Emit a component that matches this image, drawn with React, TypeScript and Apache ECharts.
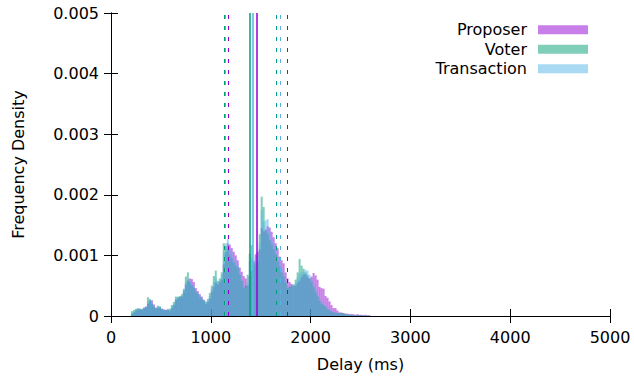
import React, { useEffect, useRef } from "react";
import * as echarts from "echarts";

// Histogram bins: 20 ms wide, starting at 200 ms
const binStart = 200;
const binWidth = 20;
// Frequency densities in units of 1e-4 per bin
const UNIT = 1e-4;
const proposerValues = [
  0.3, 0.6, 0.9, 1.1, 1.2, 1.0, 1.4, 1.5, 2.0, 2.5,
  2.6, 1.9, 1.4, 1.3, 1.4, 1.2, 1.1, 1.0, 1.1, 0.8,
  1.3, 1.8, 2.6, 2.9, 3.1, 3.2, 4.0, 5.2, 5.8, 6.2,
  6.1, 5.6, 4.6, 4.1, 3.6, 3.2, 2.7, 2.0, 2.3, 2.9,
  4.0, 4.8, 5.5, 5.2, 5.6, 6.0, 8.5, 10.5, 12.0, 11.8,
  11.2, 10.6, 10.0, 9.2, 8.0, 7.3, 6.6, 6.2, 5.0, 6.5,
  7.5, 9.0, 10.2, 10.6, 11.0, 14.5, 14.0, 14.3, 14.8, 14.6,
  13.9, 13.0, 12.0, 11.2, 9.8, 9.2, 8.7, 7.2, 6.2, 5.6,
  5.3, 5.0, 5.0, 5.5, 5.8, 6.4, 6.8, 6.9, 6.4, 6.2,
  6.5, 7.1, 6.7, 6.0, 4.8, 4.6, 4.5, 3.3, 3.0, 2.4,
  1.8, 1.3, 1.3, 0.9, 0.6, 0.5, 0.5, 0.4, 0.4, 0.3,
  0.3, 0.3, 0.2, 0.3, 0.2, 0.2, 0.15, 0.2, 0.1, 0.1,
];
const voterValues = [
  0.8, 1.0, 1.2, 1.3, 1.1, 1.2, 1.2, 1.5, 3.1, 2.8,
  2.0, 1.5, 1.2, 1.7, 1.6, 1.2, 0.9, 1.0, 1.0, 1.2,
  1.8, 2.3, 3.2, 3.2, 3.3, 3.6, 4.5, 6.5, 7.2, 5.6,
  5.0, 4.6, 4.0, 3.6, 3.1, 2.8, 2.5, 2.4, 2.8, 3.8,
  5.0, 6.6, 7.5, 5.8, 6.2, 7.2, 12.0, 11.5, 11.0, 10.0,
  9.5, 8.8, 8.3, 8.0, 6.8, 5.8, 4.6, 5.0, 6.8, 10.3,
  11.7, 8.5, 8.8, 9.0, 13.5, 19.7, 18.0, 14.0, 13.5, 12.5,
  11.8, 11.0, 10.2, 9.0, 8.2, 7.2, 6.5, 5.5, 4.6, 4.8,
  5.0, 5.2, 6.0, 7.2, 9.4, 8.3, 7.8, 7.2, 6.8, 6.2,
  5.6, 4.8, 4.0, 3.2, 2.5, 2.0, 1.8, 1.5, 1.1, 0.9,
  0.7, 0.6, 0.5, 0.5, 0.5, 0.6, 0.4, 0.3, 0.2, 0.2,
  0.2, 0.1, 0.1, 0.1, 0.1, 0.1, 0.05, 0.05, 0.05, 0.05,
];
const transactionValues = [
  0.5, 0.7, 1.0, 1.1, 1.2, 1.1, 1.3, 1.6, 2.4, 2.6,
  2.2, 1.6, 1.3, 1.6, 1.5, 1.1, 1.0, 1.0, 1.1, 1.0,
  1.6, 2.0, 2.8, 3.1, 3.0, 3.3, 4.3, 5.6, 6.0, 5.7,
  5.2, 4.8, 4.2, 3.8, 3.4, 3.0, 2.6, 2.2, 2.4, 3.3,
  4.4, 5.6, 6.2, 5.5, 5.8, 6.8, 10.5, 12.0, 12.7, 11.2,
  10.5, 9.5, 9.0, 8.5, 7.0, 6.0, 4.8, 4.6, 5.5, 9.0,
  9.5, 9.2, 9.8, 10.0, 12.0, 17.5, 15.5, 15.8, 16.0, 14.0,
  12.8, 12.0, 11.0, 9.8, 8.8, 7.8, 7.0, 5.8, 4.8, 4.6,
  5.0, 5.0, 5.4, 6.3, 7.0, 7.2, 7.3, 7.6, 7.5, 6.8,
  6.2, 5.2, 4.4, 3.5, 2.8, 2.3, 2.0, 1.6, 1.3, 1.0,
  0.8, 0.6, 0.6, 0.5, 0.4, 0.4, 0.3, 0.3, 0.3, 0.2,
  0.2, 0.2, 0.1, 0.1, 0.1, 0.1, 0.1, 0.05, 0.05, 0.05,
];

// Vertical reference lines (ms): mean (solid) and lower/upper (dashed)
const proposerLines = { mean: 1463, lo: 1179, hi: 1764 };
const voterLines = { mean: 1393, lo: 1135, hi: 1657 };
const transactionLines = { mean: 1416, lo: 1145, hi: 1694 };

const xTicks = { min: 0, max: 5000, interval: 1000 };
const yTicks = { min: 0, max: 0.005, interval: 0.001 };

const FONT = "DejaVu Sans";

function makeSeries(name: string, values: number[], lines: any, color: string, fill: string) {
  const data = values.map((v, i) => [binStart + i * binWidth, binStart + (i + 1) * binWidth, v * UNIT]);
  return {
    name,
    type: "custom",
    data,
    encode: { x: [0, 1], y: 2 },
    itemStyle: { color: fill },
    renderItem: (params: any, api: any) => {
      const p0 = api.coord([api.value(0), api.value(2)]);
      const p1 = api.coord([api.value(1), 0]);
      return {
        type: "rect",
        shape: { x: p0[0], y: p0[1], width: p1[0] - p0[0], height: p1[1] - p0[1] },
        style: { fill },
      };
    },
    markLine: {
      silent: true,
      symbol: "none",
      label: { show: false },
      animation: false,
      data: [
        { xAxis: lines.mean, lineStyle: { color, width: 1.5, type: "solid" } },
        { xAxis: lines.lo, lineStyle: { color, width: 1, type: [4, 7] } },
        { xAxis: lines.hi, lineStyle: { color, width: 1, type: [4, 7] } },
      ],
    },
  };
}

export default function App() {
  const ref = useRef<HTMLDivElement>(null);
  useEffect(() => {
    if (!ref.current) return;
    const chart = echarts.init(ref.current, null, { renderer: "svg" });
    const axisLine = { show: true, lineStyle: { color: "#000", width: 1 } };
    const tick = { show: true, inside: true, length: 7, lineStyle: { color: "#000", width: 1 } };
    chart.setOption({
      animation: false,
      backgroundColor: "#fff",
      textStyle: { fontFamily: FONT },
      grid: { left: 111, right: 24, top: 13, bottom: 62, containLabel: false },
      legend: {
        orient: "vertical",
        align: "right",
        right: 41,
        top: 15,
        itemWidth: 50,
        itemHeight: 9,
        itemGap: 0,
        selectedMode: false,
        textStyle: { fontFamily: FONT, fontSize: 16, color: "#000", lineHeight: 19.5, padding: [0, 6, 0, 0] },
        data: [
          { name: "Proposer", icon: "rect" },
          { name: "Voter", icon: "rect" },
          { name: "Transaction", icon: "rect" },
        ],
      },
      xAxis: [
        {
          type: "value",
          position: "bottom",
          ...xTicks,
          axisLine,
          axisTick: tick,
          splitLine: { show: false },
          axisLabel: { color: "#000", fontSize: 16, fontFamily: FONT, margin: 13, formatter: (v: number) => String(v) },
          name: "Delay (ms)",
          nameLocation: "middle",
          nameGap: 40,
          nameTextStyle: { color: "#000", fontSize: 16, fontFamily: FONT },
        },
        {
          type: "value",
          position: "top",
          ...xTicks,
          axisLine,
          axisTick: tick,
          splitLine: { show: false },
          axisLabel: { show: false },
        },
      ],
      yAxis: [
        {
          type: "value",
          position: "left",
          ...yTicks,
          axisLine,
          axisTick: tick,
          splitLine: { show: false },
          axisLabel: {
            color: "#000",
            fontSize: 16,
            fontFamily: FONT,
            margin: 12,
            formatter: (v: number) => (v === 0 ? "0" : v.toFixed(3)),
          },
          name: "Frequency Density",
          nameLocation: "middle",
          nameGap: 85,
          nameTextStyle: { color: "#000", fontSize: 16, fontFamily: FONT },
        },
        {
          type: "value",
          position: "right",
          ...yTicks,
          axisLine,
          axisTick: tick,
          splitLine: { show: false },
          axisLabel: { show: false },
        },
      ],
      series: [
        makeSeries("Proposer", proposerValues, proposerLines, "#9400d3", "rgba(148,0,211,0.5)"),
        makeSeries("Voter", voterValues, voterLines, "#009e73", "rgba(0,158,115,0.5)"),
        makeSeries("Transaction", transactionValues, transactionLines, "#56b4e9", "rgba(86,180,233,0.5)"),
      ],
    });
    return () => chart.dispose();
  }, []);
  return <div ref={ref} style={{ width: 634, height: 378, position: "absolute", left: 0, top: 0 }} />;
}
